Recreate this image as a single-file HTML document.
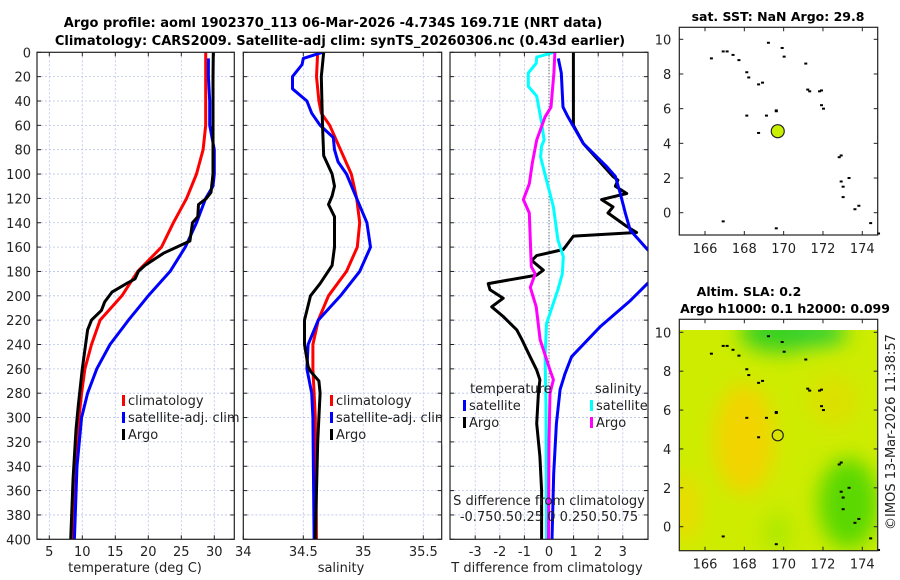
<!DOCTYPE html>
<html><head><meta charset="utf-8"><style>
html,body{margin:0;padding:0;background:#fff;}
svg{display:block;font-family:"DejaVu Sans","Liberation Sans",sans-serif;}
.t{font-size:13px;fill:#222;}
.b{font-size:12.5px;font-weight:bold;fill:#000;}
.bt{font-size:13px;font-weight:bold;fill:#000;}
</style></head><body>
<svg id="fig" width="900" height="580" viewBox="0 0 900 580" xmlns="http://www.w3.org/2000/svg">
<defs>
<filter id="blur" x="-50%" y="-50%" width="200%" height="200%"><feGaussianBlur stdDeviation="10"/></filter>
<clipPath id="c1"><rect x="37" y="52.3" width="197.3" height="487"/></clipPath>
<clipPath id="c2"><rect x="243.3" y="52.3" width="198.4" height="487"/></clipPath>
<clipPath id="c3"><rect x="450" y="52.3" width="198" height="487"/></clipPath>
<clipPath id="cm2"><rect x="679.3" y="330" width="198.4" height="220.7"/></clipPath>
</defs>
<text class="bt" x="333" y="27" text-anchor="middle">Argo profile: aoml 1902370_113 06-Mar-2026 -4.734S 169.71E (NRT data)</text>
<text class="bt" x="340" y="45" text-anchor="middle">Climatology: CARS2009. Satellite-adj clim: synTS_20260306.nc (0.43d earlier)</text>
<text class="b" x="778" y="21" text-anchor="middle">sat. SST: NaN Argo: 29.8</text>
<text class="b" x="749" y="296" text-anchor="middle">Altim. SLA: 0.2</text>
<text class="b" x="785" y="313" text-anchor="middle">Argo h1000: 0.1 h2000: 0.099</text>
<text class="t" x="0" y="0" transform="translate(895,432) rotate(-90)" text-anchor="middle">©IMOS 13-Mar-2026 11:38:57</text>
<g id="layer"></g>
</svg>
<script>
// ---- data ----
const depthTicks=[0,20,40,60,80,100,120,140,160,180,200,220,240,260,280,300,320,340,360,380,400];
const tTicks=[5,10,15,20,25,30];
const sTicks=[34,34.5,35,35.5];
const sTickLabels=["34","34.5","35","35.5"];
const dTicks=[-3,-2,-1,0,1,2,3];
const tClimD=[0,20,40,60,80,100,120,140,160,180,200,220,240,260,280,300,340,400];
const tClimV=[28.7,28.7,28.7,28.7,28.3,27.3,25.8,23.8,22.0,18.4,16.0,12.7,11.4,10.4,9.9,9.5,9.15,8.6];
const tSatD=[5,20,40,60,80,100,110,120,140,160,180,200,220,240,260,280,300,340,400];
const tSatV=[29.1,29.1,29.3,29.3,30.0,30.0,29.8,28.7,27.3,25.6,23.3,20.0,17.0,14.2,12.2,10.8,9.9,9.2,8.8];
const tArgoD=[0,20,60,100,115,120,125,135,140,155,160,165,175,180,186,190,197,205,212,220,228,260,290,310,350,400];
const tArgoV=[29.85,29.8,29.8,29.8,29.5,28.8,27.6,27.5,26.7,26.3,24.3,22.3,19.5,18.5,18.0,16.7,14.5,13.4,12.9,11.4,10.8,10.0,9.4,9.05,8.6,8.24];
const sClimD=[0,20,40,50,60,80,100,120,140,160,180,200,220,240,260,300,400];
const sClimV=[34.62,34.61,34.63,34.65,34.72,34.81,34.90,34.945,34.97,34.95,34.86,34.71,34.625,34.58,34.58,34.6,34.61];
const sSatD=[0,5,10,20,30,40,50,60,70,80,90,100,120,140,160,180,195,200,220,240,260,280,300,400];
const sSatV=[34.66,34.5,34.49,34.41,34.41,34.53,34.57,34.64,34.75,34.76,34.79,34.86,34.945,35.03,35.06,34.97,34.85,34.81,34.625,34.54,34.53,34.57,34.58,34.59];
const sArgoD=[0,20,60,85,100,110,118,125,135,160,175,190,200,220,240,258,262,270,280,300,320,400];
const sArgoV=[34.67,34.65,34.66,34.67,34.74,34.76,34.74,34.71,34.76,34.76,34.74,34.64,34.56,34.51,34.51,34.54,34.56,34.63,34.64,34.63,34.62,34.60];
const dtArgoD=[0,60,75,102,105,110,116,121,127,132,143,148,151,162,167,171,179,183,190,195,202,209,217,228,236,250,261,269,280,305,332,360,400];
const dtArgoV=[0.99,0.99,1.4,2.6,2.8,2.7,3.16,2.14,2.6,2.4,3.16,3.56,0.99,0.58,-0.5,-0.7,-0.23,-0.5,-2.47,-2.4,-1.86,-2.33,-1.86,-1.31,-1.1,-0.77,-0.5,-0.37,-0.43,-0.5,-0.37,-0.3,-0.3];
const dtSatD=[5,17,45,53,75,94,102,116,132,146,162,172,182,190,204,225,250,264,277,305,346,400];
const dtSatV=[0.38,0.5,0.57,0.77,1.4,2.35,2.7,2.9,3.1,3.3,4.0,4.6,4.6,4.0,3.3,2.1,0.92,0.65,0.45,0.3,0.19,0.12];
const dsSatD=[0,4,9,17,28,36,58,72,77,86,105,127,154,168,182,195,223,250,291,400];
const dsSatV=[0.05,-0.125,-0.13,-0.21,-0.21,-0.125,-0.075,-0.05,-0.075,-0.085,-0.025,0.045,0.09,0.145,0.135,0.09,-0.025,-0.04,-0.03,-0.025];
const dsArgoD=[0,17,45,53,72,91,108,121,132,154,176,182,193,209,236,261,269,280,319,400];
const dsArgoV=[0.06,0.05,0.02,-0.04,-0.125,-0.17,-0.2,-0.26,-0.2,-0.19,-0.18,-0.14,-0.19,-0.13,-0.09,0.01,0.045,0.01,0.0,-0.005];
const lonTicks=[166,168,170,172,174];
const latTicks=[0,2,4,6,8,10];
const argoLon=169.7, argoLat=4.7;
const islandLon=[166.3,166.9,167.1,167.4,167.7,168.1,168.2,168.7,168.9,169.1,169.2,169.6,169.9,170.0,171.1,171.2,171.3,171.8,171.9,172.0,171.9,172.8,172.9,172.9,173.0,173.0,173.3,173.6,173.8,174.4,174.8,166.9,169.6,168.1,168.7,169.6];
const islandLat=[8.9,9.3,9.3,9.1,8.8,8.1,7.8,7.4,7.5,5.6,9.8,5.9,9.5,9.0,8.6,7.1,7.0,7.0,6.2,6.0,7.05,3.2,3.3,1.8,1.5,0.9,2.0,0.2,0.4,-0.6,-1.2,-0.5,-0.9,5.6,4.6,5.85];

// ---- helpers ----
const NS="http://www.w3.org/2000/svg";
const L=document.getElementById('layer');
function mk(tag,attrs,parent){const e=document.createElementNS(NS,tag);for(const k in attrs)e.setAttribute(k,attrs[k]);(parent||L).appendChild(e);return e;}
const yTop=52.3,yBot=539.3;
const yD=d=>yTop+d*(yBot-yTop)/400;
function lin(d0,d1,r0,r1){return v=>r0+(v-d0)*(r1-r0)/(d1-d0);}
const xT=lin(5,30,49.3,214.3);
const xS=lin(34,35.5,243.3,423.3);
const xDT=lin(0,3,549,622.8);
const xDS=v=>xDT(v*4);

function panel(x0,x1,xs,ticks,labels,clip,name){
  const g=mk('g',{});
  
  
  ticks.forEach((t,i)=>{const x=xs(t);
    const gl=mk('line',{x1:x,x2:x,y1:yTop,y2:yBot,stroke:'#b8c4e8','stroke-width':0.8,'stroke-dasharray':'2,2'},g);
    
    mk('line',{x1:x,x2:x,y1:yBot,y2:yBot-4,stroke:'#222'},g);
    mk('line',{x1:x,x2:x,y1:yTop,y2:yTop+4,stroke:'#222'},g);
    const tx=mk('text',{x:x,y:556,'text-anchor':'middle',class:'t'},g);tx.textContent=labels[i];
    
  });
  depthTicks.forEach(d=>{const y=yD(d);
    if(d>0&&d<400){const gl=mk('line',{x1:x0,x2:x1,y1:y,y2:y,stroke:'#b8c4e8','stroke-width':0.8,'stroke-dasharray':'2,2'},g);
      }
    mk('line',{x1:x0,x2:x0+4,y1:y,y2:y,stroke:'#222'},g);
    mk('line',{x1:x1,x2:x1-4,y1:y,y2:y,stroke:'#222'},g);
  });
  return g;
}
function series(D,V,xs,color,clip,name,w){
  const pts=D.map((d,i)=>xs(V[i]).toFixed(1)+','+yD(d).toFixed(1)).join(' ');
  const p=mk('polyline',{points:pts,fill:'none',stroke:color,'stroke-width':w||3,'stroke-linejoin':'round','clip-path':'url(#'+clip+')'});
  
  
}
function frame(x0,x1,name){const r=mk('rect',{x:x0,y:yTop,width:x1-x0,height:yBot-yTop,fill:'none',stroke:'#222','stroke-width':1.2});
  }
function txt(x,y,s,name,anchor){const t=mk('text',{x:x,y:y,class:'t','text-anchor':anchor||'start'});t.textContent=s;
  return t;}
function legendItem(x,y,color,label,name){
  const g=mk('g',{});
  
  
  mk('rect',{x:x,y:y-10,width:3,height:11,fill:color},g);
  const t=mk('text',{x:x+6,y:y,class:'t'},g);t.textContent=label;
}

// panel 1 temperature
panel(37,234.3,xT,tTicks,tTicks.map(String),'c1','temperature-axes');
depthTicks.forEach(d=>{txt(31,yD(d)+5,String(d),'depth-tick-label','end');});
series(tClimD,tClimV,xT,'#ff0000','c1','temp-climatology-line');
series(tSatD,tSatV,xT,'#0000ff','c1','temp-satellite-line');
series(tArgoD,tArgoV,xT,'#000','c1','temp-argo-line');
frame(37,234.3,'temperature-plot-frame');
txt(135,572,'temperature (deg C)','temperature-x-axis-title','middle');
legendItem(122,405,'#ff0000','climatology','legend-climatology');
legendItem(122,422,'#0000ff','satellite-adj. clim','legend-satellite-adj');
legendItem(122,439,'#000','Argo','legend-argo');

// panel 2 salinity
panel(243.3,441.7,xS,sTicks,sTickLabels,'c2','salinity-axes');
series(sClimD,sClimV,xS,'#ff0000','c2','sal-climatology-line');
series(sSatD,sSatV,xS,'#0000ff','c2','sal-satellite-line');
series(sArgoD,sArgoV,xS,'#000','c2','sal-argo-line');
frame(243.3,441.7,'salinity-plot-frame');
txt(341,572,'salinity','salinity-x-axis-title','middle');
legendItem(330,405,'#ff0000','climatology','legend-sal-climatology');
legendItem(330,422,'#0000ff','satellite-adj. clim','legend-sal-satellite-adj');
legendItem(330,439,'#000','Argo','legend-sal-argo');
mk('rect',{x:442.3,y:395,width:7,height:50,fill:'#fff'});

// panel 3 differences
panel(450,648,xDT,dTicks,dTicks.map(String),'c3','difference-axes');
const z=mk('line',{x1:xDT(0),x2:xDT(0),y1:yTop,y2:yBot,stroke:'#444','stroke-dasharray':'1,2'});

series(dtArgoD,dtArgoV,xDT,'#000','c3','tdiff-argo-line');
series(dtSatD,dtSatV,xDT,'#0000ff','c3','tdiff-satellite-line');
series(dsSatD,dsSatV,xDS,'#00ffff','c3','sdiff-satellite-line');
series(dsArgoD,dsArgoV,xDS,'#ff00ff','c3','sdiff-argo-line');
frame(450,648,'difference-plot-frame');
txt(547,572,'T difference from climatology','tdiff-x-axis-title','middle');
txt(549,505,'S difference from climatology','sdiff-axis-title','middle');
txt(549,521,'-0.750.50.25 0  0.250.50.75','sdiff-tick-labels','middle');
txt(470,393,'temperature','legend-temperature-header');
txt(595,393,'salinity','legend-salinity-header');
legendItem(463,410,'#0000ff','satellite','legend-tdiff-satellite');
legendItem(463,427,'#000','Argo','legend-tdiff-argo');
legendItem(590,410,'#00ffff','satellite','legend-sdiff-satellite');
legendItem(590,427,'#ff00ff','Argo','legend-sdiff-argo');

// maps
function map(x0,x1,yt,yb,lat10,lat0,name,colored){
  const xL=lin(166,174,705,862.3), yL=lin(0,10,lat0,lat10);
  const g=mk('g',{});
  
  
  if(colored){
    const cg=mk('g',{'clip-path':'url(#cm2)'},g);
    mk('rect',{x:x0,y:yt,width:x1-x0,height:yb-yt,fill:'#cdec00'},cg);
    const bl=mk('g',{filter:'url(#blur)'},cg);
    mk('ellipse',{cx:xL(168),cy:yL(4.5),rx:30,ry:55,fill:'#f2d400'},bl);
    mk('ellipse',{cx:xL(165),cy:yL(1),rx:15,ry:35,fill:'#eadc00'},bl);
    mk('ellipse',{cx:xL(172.5),cy:yL(6.5),rx:25,ry:25,fill:'#dde000'},bl);
    mk('ellipse',{cx:xL(169.8),cy:yL(10),rx:40,ry:20,fill:'#38d020'},bl);
    mk('ellipse',{cx:xL(171.7),cy:yL(10),rx:30,ry:14,fill:'#30d030'},bl);
    mk('ellipse',{cx:xL(173.3),cy:yL(1.2),rx:30,ry:45,fill:'#5ad800'},bl);
    mk('ellipse',{cx:xL(169.7),cy:yL(-0.3),rx:12,ry:20,fill:'#a8e800'},bl);
  }
  islandLon.forEach((lo,i)=>{const d=mk('rect',{x:xL(lo)-1,y:yL(islandLat[i])-1,width:3,height:2,fill:'#000'},g);
    });
  const c=mk('circle',{cx:xL(argoLon),cy:yL(argoLat),r:colored?5.5:6.5,fill:colored?'none':'#c8f000',stroke:'#222','stroke-width':1.2},g);
  
  mk('rect',{x:x0,y:yt,width:x1-x0,height:yb-yt,fill:'none',stroke:'#222','stroke-width':1.2},g);
  lonTicks.forEach(lo=>{const x=xL(lo);
    mk('line',{x1:x,x2:x,y1:yb,y2:yb-4,stroke:'#222'},g);mk('line',{x1:x,x2:x,y1:yt,y2:yt+4,stroke:'#222'},g);
    const t=mk('text',{x:x,y:yb+18,class:'t','text-anchor':'middle'},g);t.textContent=String(lo);
    });
  latTicks.forEach(la=>{const y=yL(la);
    mk('line',{x1:x0,x2:x0+4,y1:y,y2:y,stroke:'#222'},g);mk('line',{x1:x1,x2:x1-4,y1:y,y2:y,stroke:'#222'},g);
    const t=mk('text',{x:x0-8,y:y+5,class:'t','text-anchor':'end'},g);t.textContent=String(la);
    });
}
map(679.3,877.7,27.3,235,39.3,212.7,'sst-map',false);
map(679.3,877.7,319.3,550.7,332.3,526.7,'sla-map',true);
</script>
</body></html>
